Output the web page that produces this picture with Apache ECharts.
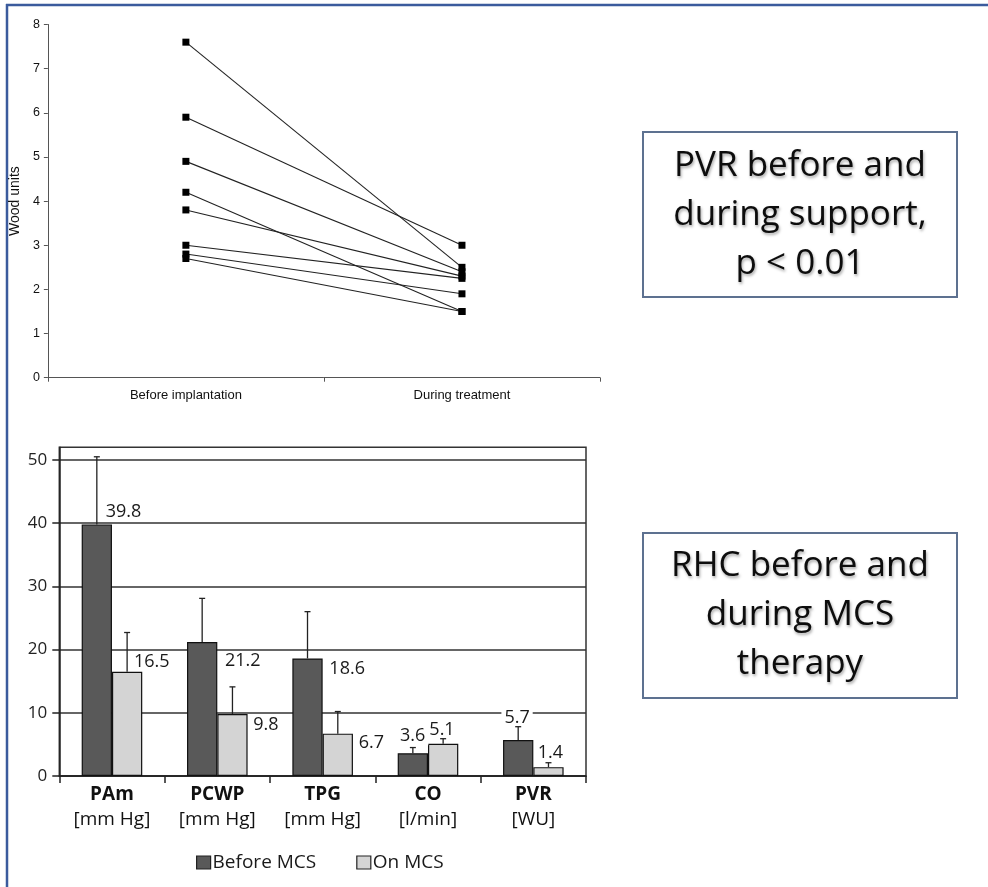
<!DOCTYPE html>
<html>
<head>
<meta charset="utf-8">
<script src="https://cdn.jsdelivr.net/npm/echarts@6/dist/echarts.min.js"></script>
<style>
  html, body { margin: 0; padding: 0; background: #fff; }
  #chart { width: 988px; height: 887px; }
</style>
</head>
<body>
<div id="chart"></div>
<script>
// PVR per patient, before implantation / during treatment (Wood units)
var pvrStages = ['Before implantation', 'During treatment'];
var pvrBefore = [7.6, 5.9, 4.9, 4.2, 3.8, 3.0, 2.8, 2.7];
var pvrDuring = [2.5, 3.0, 2.4, 1.5, 2.3, 2.25, 1.9, 1.5];

// RHC before / on MCS
var rhcNames = ['PAm', 'PCWP', 'TPG', 'CO', 'PVR'];
var rhcUnits = ['[mm Hg]', '[mm Hg]', '[mm Hg]', '[l/min]', '[WU]'];
var beforeMCS = [39.8, 21.2, 18.6, 3.6, 5.7];
var onMCS = [16.5, 9.8, 6.7, 5.1, 1.4];
// upper end of the error bars
var beforeMCSErr = [50.5, 28.1, 26.0, 4.5, 7.8];
var onMCSErr = [22.7, 14.1, 10.2, 5.9, 2.1];
var rhcTicks = [0, 10, 20, 30, 40, 50];

var chart = echarts.init(document.getElementById('chart'));

var CAT_GAP = 0.425;
var darkColor = '#595959';
var lightColor = '#d4d4d4';
var rhcFont = 'Open Sans';

// label placement per bar (offset from bar top-left, align)
var darkLabelPos = [[21, -13, 'left'], [35, 19, 'left'], [34, 10, 'left'], [15, -17, 'center'], [14, -22, 'center']];
var lightLabelPos = [[19, -10, 'left'], [33, 11, 'left'], [33, 9, 'left'], [14, -14, 'center'], [17, -14, 'center']];

function barData(values, pos) {
  return values.map(function (v, i) {
    return {
      value: v,
      label: {
        show: true,
        position: [pos[i][0], pos[i][1]],
        align: pos[i][2],
        verticalAlign: 'middle',
        formatter: function (p) { return p.value.toFixed(1); },
        fontFamily: rhcFont,
        fontSize: 18,
        color: '#1a1a1a',
        backgroundColor: '#fff',
        padding: [0, 3]
      }
    };
  });
}

function errorSeries(name, values, tops, side) {
  return {
    type: 'custom',
    name: name,
    xAxisIndex: 1,
    yAxisIndex: 1,
    z: 5,
    silent: true,
    encode: { x: 0, y: [1, 2] },
    data: values.map(function (v, i) { return [i, v, tops[i]]; }),
    renderItem: function (params, api) {
      var band = api.size([1, 0])[0];
      var barW = band * (1 - CAT_GAP) / 2;
      var p0 = api.coord([api.value(0), api.value(1)]);
      var p1 = api.coord([api.value(0), api.value(2)]);
      var x = p0[0] + side * barW / 2;
      var st = { stroke: '#222', lineWidth: 1.3 };
      return {
        type: 'group',
        children: [
          { type: 'line', shape: { x1: x, y1: p0[1], x2: x, y2: p1[1] }, style: st },
          { type: 'line', shape: { x1: x - 3, y1: p1[1], x2: x + 3, y2: p1[1] }, style: st }
        ]
      };
    }
  };
}

var pvrSeries = pvrBefore.map(function (v, i) {
  return {
    type: 'line',
    xAxisIndex: 0,
    yAxisIndex: 0,
    data: [v, pvrDuring[i]],
    symbol: 'rect',
    symbolSize: 7,
    itemStyle: { color: '#000' },
    lineStyle: { color: '#222', width: 1.1 },
    animation: false
  };
});

var option = {
  animation: false,
  grid: [
    { left: 43, right: 388, top: 24.5, bottom: 509.3 },
    { left: 59.3, right: 402, top: 447.3, bottom: 111, show: true, borderColor: '#333', borderWidth: 1.5 }
  ],
  legend: {
    data: ['Before MCS', 'On MCS'],
    left: 191,
    top: 848,
    icon: 'rect',
    itemWidth: 14,
    itemHeight: 13,
    itemGap: 40,
    itemStyle: { borderColor: '#222', borderWidth: 1.2 },
    textStyle: { fontFamily: rhcFont, fontSize: 19, color: '#1a1a1a', padding: [0, 0, 0, -3] }
  },
  xAxis: [
    {
      gridIndex: 0,
      type: 'category',
      data: pvrStages,
      boundaryGap: true,
      axisLine: { lineStyle: { color: '#555', width: 1 } },
      axisTick: { show: true, length: 4, lineStyle: { color: '#555' } },
      axisLabel: { margin: 11, fontFamily: 'Liberation Sans', fontSize: 13, color: '#111' }
    },
    {
      gridIndex: 1,
      type: 'category',
      data: rhcNames,
      boundaryGap: true,
      axisLine: { lineStyle: { color: '#222', width: 1.5 } },
      axisTick: { show: true, length: 7, lineStyle: { color: '#222', width: 1.5 } },
      axisLabel: {
        margin: 6,
        formatter: function (val, idx) { return '{a|' + val + '}\n{b|' + rhcUnits[idx] + '}'; },
        rich: {
          a: { fontFamily: rhcFont, fontSize: 19, fontWeight: 'bold', color: '#111', lineHeight: 25 },
          b: { fontFamily: rhcFont, fontSize: 19, color: '#111', lineHeight: 25 }
        }
      }
    }
  ],
  yAxis: [
    {
      gridIndex: 0,
      type: 'value',
      min: 0,
      max: 8,
      interval: 1,
      name: 'Wood units',
      nameLocation: 'middle',
      nameGap: 22,
      nameTextStyle: { fontFamily: 'Liberation Sans', fontSize: 14, color: '#111' },
      axisLine: { show: true, lineStyle: { color: '#555', width: 1 } },
      axisTick: { show: true, length: 4, lineStyle: { color: '#555' } },
      axisLabel: { margin: 8, fontFamily: 'Liberation Sans', fontSize: 12.5, color: '#111' },
      splitLine: { show: false }
    },
    {
      gridIndex: 1,
      type: 'value',
      min: 0,
      max: 52,
      interval: 10,
      axisLine: { show: true, lineStyle: { color: '#222', width: 1.5 } },
      axisTick: { show: true, length: 7, customValues: rhcTicks, lineStyle: { color: '#222', width: 1.5 } },
      axisLabel: { margin: 12, customValues: rhcTicks, fontFamily: rhcFont, fontSize: 17, color: '#222' },
      splitLine: { show: true, lineStyle: { color: '#333', width: 1.5 } }
    }
  ],
  series: pvrSeries.concat([
    {
      type: 'bar',
      name: 'Before MCS',
      xAxisIndex: 1,
      yAxisIndex: 1,
      data: barData(beforeMCS, darkLabelPos),
      barGap: '0%',
      barCategoryGap: (CAT_GAP * 100) + '%',
      itemStyle: { color: darkColor, borderColor: '#111', borderWidth: 1.2 },
      z: 3
    },
    {
      type: 'bar',
      name: 'On MCS',
      xAxisIndex: 1,
      yAxisIndex: 1,
      data: barData(onMCS, lightLabelPos),
      barGap: '0%',
      barCategoryGap: (CAT_GAP * 100) + '%',
      itemStyle: { color: lightColor, borderColor: '#111', borderWidth: 1.2 },
      z: 3
    },
    errorSeries('errBefore', beforeMCS, beforeMCSErr, -1),
    errorSeries('errOn', onMCS, onMCSErr, 1)
  ]),
  graphic: [
    // outer frame
    { type: 'line', shape: { x1: 6, y1: 5, x2: 988, y2: 5 }, style: { stroke: '#3b5b9d', lineWidth: 2.5 } },
    { type: 'line', shape: { x1: 7, y1: 4, x2: 7, y2: 887 }, style: { stroke: '#3b5b9d', lineWidth: 2.5 } },
    // text boxes
    { type: 'rect', shape: { x: 643, y: 132, width: 314, height: 165 }, style: { fill: '#fff', stroke: '#5d7190', lineWidth: 2 } },
    {
      type: 'text', x: 800, y: 215,
      style: {
        text: 'PVR before and\nduring support,\np < 0.01',
        fontFamily: rhcFont, fontSize: 35, lineHeight: 49, fill: '#0d0d0d',
        align: 'center', verticalAlign: 'middle',
        textShadowColor: 'rgba(0,0,0,0.35)', textShadowBlur: 3, textShadowOffsetX: 1, textShadowOffsetY: 2
      }
    },
    { type: 'rect', shape: { x: 643, y: 533, width: 314, height: 165 }, style: { fill: '#fff', stroke: '#5d7190', lineWidth: 2 } },
    {
      type: 'text', x: 800, y: 615,
      style: {
        text: 'RHC before and\nduring MCS\ntherapy',
        fontFamily: rhcFont, fontSize: 35, lineHeight: 49, fill: '#0d0d0d',
        align: 'center', verticalAlign: 'middle',
        textShadowColor: 'rgba(0,0,0,0.35)', textShadowBlur: 3, textShadowOffsetX: 1, textShadowOffsetY: 2
      }
    }
  ]
};

chart.setOption(option);
window.addEventListener('resize', function () { chart.resize(); });
</script>
</body>
</html>
